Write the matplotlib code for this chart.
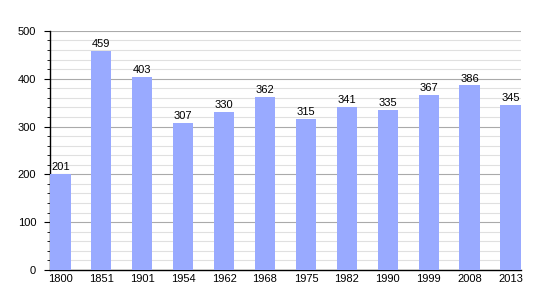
import matplotlib
matplotlib.use("Agg")
import matplotlib.pyplot as plt
from matplotlib.ticker import MultipleLocator

plt.rcParams["font.family"] = ["Liberation Sans", "DejaVu Sans"]

years = ["1800", "1851", "1901", "1954", "1962", "1968", "1975", "1982", "1990", "1999", "2008", "2013"]
population = [201, 459, 403, 307, 330, 362, 315, 341, 335, 367, 386, 345]

fig = plt.figure(figsize=(5.5, 3), dpi=100)
ax = fig.add_axes([0.091, 0.1, 0.856, 0.797])

x = range(len(years))
ax.bar(x, population, width=0.5, color="#99aaff", zorder=3)
for xi, v in zip(x, population):
    ax.text(xi, v + 4, str(v), ha="center", va="bottom", fontsize=8, zorder=4)

ax.set_xlim(-0.25, len(years) - 0.75)
ax.set_ylim(0, 500)
ax.set_xticks(list(x))
ax.set_xticklabels(years)
ax.yaxis.set_major_locator(MultipleLocator(100))
ax.yaxis.set_minor_locator(MultipleLocator(20))
ax.grid(axis="y", which="major", color="#aaaaaa", linewidth=0.8, zorder=1)
ax.grid(axis="y", which="minor", color="#e0e0e0", linewidth=0.8, zorder=1)

for s in ("top", "right"):
    ax.spines[s].set_visible(False)
ax.spines["left"].set_linewidth(1)
ax.spines["bottom"].set_linewidth(1)
ax.tick_params(axis="x", length=0, labelsize=8, pad=3)
ax.tick_params(axis="y", which="major", length=4, labelsize=8, pad=6)
ax.tick_params(axis="y", which="minor", length=2)

fig.savefig("out.png", dpi=100)
